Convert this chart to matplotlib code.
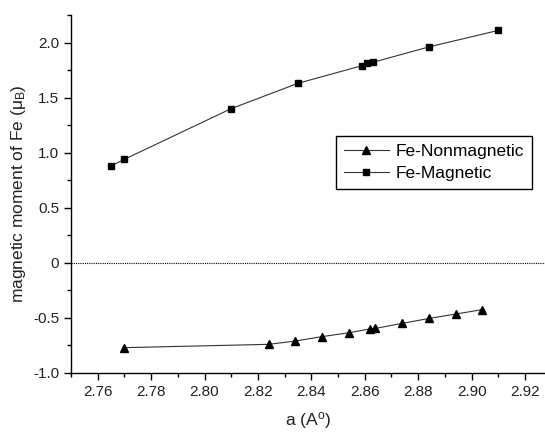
#!/usr/bin/env python3
# -*- coding: utf-8 -*-
"""
Magnetic moment of Fe versus lattice parameter
"""

import matplotlib
matplotlib.use('Agg')
import matplotlib.pyplot as plt
from matplotlib.ticker import MultipleLocator, FuncFormatter

plt.rcParams['font.family'] = ['Liberation Sans', 'DejaVu Sans']
plt.rcParams['mathtext.fontset'] = 'custom'
plt.rcParams['mathtext.rm'] = 'Liberation Sans'
plt.rcParams['mathtext.it'] = 'Liberation Sans:italic'

# Data
a_mag = [2.765, 2.770, 2.810, 2.835, 2.859, 2.861, 2.863, 2.884, 2.910]
m_mag = [0.88, 0.94, 1.40, 1.63, 1.79, 1.81, 1.82, 1.96, 2.11]

a_nonmag = [2.770, 2.824, 2.834, 2.844, 2.854, 2.862, 2.864, 2.874, 2.884, 2.894, 2.904]
m_nonmag = [-0.77, -0.74, -0.71, -0.67, -0.635, -0.60, -0.595, -0.55, -0.505, -0.465, -0.425]

labels = ['Fe-Nonmagnetic', 'Fe-Magnetic']


def main():
    fig = plt.figure(figsize=(5.45, 4.32), dpi=100)
    ax = fig.add_axes([0.1303, 0.1366, 0.8697, 0.8287])

    ax.plot(a_nonmag, m_nonmag, '-', color='#333333', lw=0.8, marker='^',
            ms=6, mfc='black', mec='black', label=labels[0])
    ax.plot(a_mag, m_mag, '-', color='#333333', lw=0.8, marker='s',
            ms=5, mfc='black', mec='black', label=labels[1])
    ax.axhline(0, color='black', lw=0.8, ls=(0, (1, 1)))

    ax.set_xlim(2.75, 2.9275)
    ax.set_ylim(-1.0, 2.25)
    ax.xaxis.set_major_locator(MultipleLocator(0.02))
    ax.xaxis.set_minor_locator(MultipleLocator(0.01))
    ax.yaxis.set_major_locator(MultipleLocator(0.5))
    ax.yaxis.set_minor_locator(MultipleLocator(0.25))
    ax.xaxis.set_major_formatter(FuncFormatter(lambda v, p: f'{v:.2f}'))
    ax.yaxis.set_major_formatter(FuncFormatter(
        lambda v, p: '0' if abs(v) < 1e-9 else f'{v:.1f}'))

    for side in ('top', 'right'):
        ax.spines[side].set_visible(False)
    for side in ('left', 'bottom'):
        ax.spines[side].set_linewidth(1.0)
    ax.tick_params(which='major', direction='out', length=5, width=1.0,
                   labelsize=11, colors='black', labelcolor='#222222')
    ax.tick_params(which='minor', direction='out', length=3, width=1.0)

    ax.set_xlabel('a (A$^{\\rm o}$)', fontsize=12.5, labelpad=8, color='#222222')
    ax.set_ylabel('magnetic moment of Fe (μ$_{\\rm B}$)', fontsize=12.5,
                  labelpad=4, color='#222222')

    ax.legend(loc='upper left', bbox_to_anchor=(0.559, 0.662), fontsize=12.5,
              frameon=True, fancybox=False, edgecolor='black', framealpha=1,
              handlelength=2.6, borderpad=0.45, labelspacing=0.4,
              handletextpad=0.4, borderaxespad=0)

    plt.savefig('out.png', dpi=100)
    plt.close()


if __name__ == "__main__":
    main()
